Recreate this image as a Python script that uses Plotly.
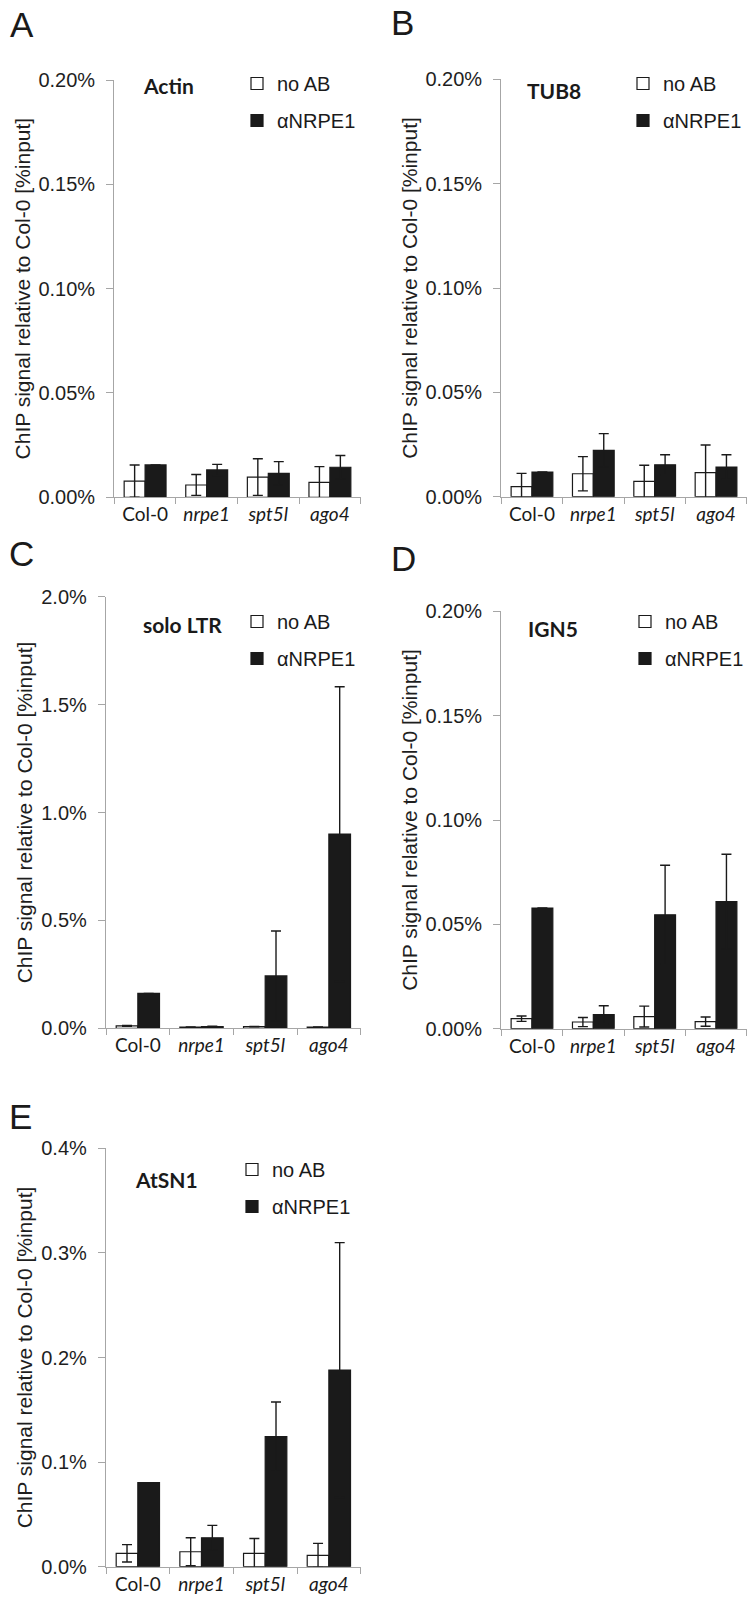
import plotly.graph_objects as go

W, H = 756, 1620

categories = ["Col-0", "nrpe1", "spt5l", "ago4"]
category_labels = ["Col-0", "<i>nrpe1</i>", "<i>spt5l</i>", "<i>ago4</i>"]
series_names = ["no AB", "αNRPE1"]
y_title = "ChIP signal relative to Col-0 [%input]"

# values in % input
actin_noab = [0.0078, 0.0059, 0.0097, 0.0072]
actin_noab_err = [0.0077, 0.0050, 0.0088, 0.0075]
actin_nrpe1 = [0.0155, 0.0131, 0.0115, 0.0144]
actin_nrpe1_err = [0.0, 0.0027, 0.0056, 0.0056]

tub8_noab = [0.0048, 0.0110, 0.0073, 0.0115]
tub8_noab_err = [0.0064, 0.0082, 0.0078, 0.0133]
tub8_nrpe1 = [0.0118, 0.0222, 0.0153, 0.0142]
tub8_nrpe1_err = [0.0, 0.0080, 0.0048, 0.0059]

sololtr_noab = [0.011, 0.005, 0.008, 0.005]
sololtr_noab_err = [0.002, 0.001, 0.001, 0.001]
sololtr_nrpe1 = [0.162, 0.008, 0.2425, 0.900]
sololtr_nrpe1_err = [0.0, 0.002, 0.2085, 0.683]

ign5_noab = [0.0048, 0.0032, 0.0058, 0.0034]
ign5_noab_err = [0.0013, 0.0022, 0.0050, 0.0022]
ign5_nrpe1 = [0.0578, 0.0067, 0.0546, 0.0609]
ign5_nrpe1_err = [0.0, 0.0043, 0.0237, 0.0227]

atsn1_noab = [0.0128, 0.0143, 0.0127, 0.0108]
atsn1_noab_err = [0.0083, 0.0134, 0.0143, 0.0115]
atsn1_nrpe1 = [0.0803, 0.0277, 0.1243, 0.188]
atsn1_nrpe1_err = [0.0, 0.0118, 0.0332, 0.1218]

panel_letters = ["A", "B", "C", "D", "E"]
panel_names = ["Actin", "TUB8", "solo LTR", "IGN5", "AtSN1"]
panel_ymax = [0.2, 0.2, 2.0, 0.2, 0.4]
panel_dtick = [0.05, 0.05, 0.5, 0.05, 0.1]
panel_fmt = [".2f", ".2f", ".1f", ".2f", ".1f"]
panel_data = [
    (actin_noab, actin_noab_err, actin_nrpe1, actin_nrpe1_err),
    (tub8_noab, tub8_noab_err, tub8_nrpe1, tub8_nrpe1_err),
    (sololtr_noab, sololtr_noab_err, sololtr_nrpe1, sololtr_nrpe1_err),
    (ign5_noab, ign5_noab_err, ign5_nrpe1, ign5_nrpe1_err),
    (atsn1_noab, atsn1_noab_err, atsn1_nrpe1, atsn1_nrpe1_err),
]

# layout geometry in pixels: (left, right, top, bottom) of plot areas
boxes = [
    (114.3, 360.7, 80.0, 497.3),
    (501.3, 746.7, 79.3, 496.7),
    (106.0, 360.7, 596.7, 1028.3),
    (501.3, 746.7, 611.3, 1028.7),
    (106.0, 360.7, 1148.3, 1566.7),
]
letter_pos = [(8, 25), (389, 23), (7, 554), (389, 558), (7, 1116)]
name_pos = [(168, 85), (554, 90), (182, 625), (553, 628), (166, 1179)]
legend_pos = [(237, 64), (623, 64), (237, 602), (625, 602), (232, 1150)]

AX = "#a6a6a6"
INK = "#1a1a1a"
SANS = "Liberation Sans, Arial, sans-serif"
CAL = "Lato, Carlito, sans-serif"


def px_x(v):
    return v / W


def px_y(v):
    return 1 - v / H


fig = go.Figure()
layout = dict(
    width=W, height=H, margin=dict(l=0, r=0, t=0, b=0, autoexpand=False),
    paper_bgcolor="white", plot_bgcolor="white",
    barmode="group", bargap=0.32, bargroupgap=0.0,
    annotations=[], showlegend=True,
)

for i in range(5):
    n = i + 1
    xa = "x" if n == 1 else f"x{n}"
    ya = "y" if n == 1 else f"y{n}"
    lg = "legend" if n == 1 else f"legend{n}"
    noab, noab_err, nrpe, nrpe_err = panel_data[i]
    fig.add_trace(go.Bar(
        x=categories, y=noab, name=series_names[0], xaxis=xa, yaxis=ya,
        marker=dict(color="white", line=dict(color=INK, width=1.2)),
        error_y=dict(type="data", array=noab_err, color=INK, thickness=1.4, width=5),
        legend=lg, legendgroup=f"{n}a", offsetgroup="a",
    ))
    fig.add_trace(go.Bar(
        x=categories, y=nrpe, name=series_names[1], xaxis=xa, yaxis=ya,
        marker=dict(color=INK, line=dict(color=INK, width=1.2)),
        error_y=dict(type="data", array=nrpe_err, color=INK, thickness=1.4, width=5),
        legend=lg, legendgroup=f"{n}b", offsetgroup="b",
    ))
    l, r, t, b = boxes[i]
    layout["xaxis" if n == 1 else f"xaxis{n}"] = dict(
        domain=[px_x(l), px_x(r)], anchor=ya, type="category", automargin=False,
        categoryorder="array", categoryarray=categories,
        tickvals=categories, ticktext=category_labels,
        showline=True, linecolor=AX, linewidth=1.3, mirror=False,
        ticks="outside", tickson="boundaries", ticklen=6, tickcolor=AX, tickwidth=1.3,
        tickfont=dict(family=CAL, size=19, color=INK), showgrid=False, zeroline=False,
        range=[-0.5, 3.5], fixedrange=True,
    )
    layout["yaxis" if n == 1 else f"yaxis{n}"] = dict(
        domain=[px_y(b), px_y(t)], anchor=xa, automargin=False,
        range=[0, panel_ymax[i]], dtick=panel_dtick[i], tick0=0,
        tickformat=panel_fmt[i], ticksuffix="%",
        showline=True, linecolor=AX, linewidth=1.3,
        ticks="outside", ticklen=7, tickcolor=AX, tickwidth=1.3,
        ticklabelstandoff=7,
        tickfont=dict(family=SANS, size=20, color="#1e1e1e"),
        showgrid=False, zeroline=False, fixedrange=True,
        title=dict(text=y_title, font=dict(family=SANS, size=21, color="#1e1e1e"), standoff=2),
    )
    lx, ly = legend_pos[i]
    layout[lg] = dict(
        x=px_x(lx), y=px_y(ly), xanchor="left", yanchor="top",
        bgcolor="rgba(0,0,0,0)", borderwidth=0,
        font=dict(family=SANS, size=20, color=INK),
        traceorder="grouped", tracegroupgap=8, itemclick=False, itemdoubleclick=False,
    )
    ax_, ay_ = letter_pos[i]
    layout["annotations"].append(dict(
        text=panel_letters[i], x=px_x(ax_), y=px_y(ay_), xref="paper", yref="paper",
        xanchor="left", yanchor="middle", showarrow=False,
        font=dict(family=SANS, size=35, color=INK),
    ))
    nx, ny = name_pos[i]
    layout["annotations"].append(dict(
        text=f"<b>{panel_names[i]}</b>", x=px_x(nx), y=px_y(ny), xref="paper", yref="paper",
        xanchor="center", yanchor="middle", showarrow=False,
        font=dict(family=CAL, size=21, color=INK),
    ))

fig.update_layout(**layout)
fig.write_html(
    "out.html",
    config={"displayModeBar": False},
    post_script="document.body.style.margin='0';document.body.style.overflow='hidden';",
)
